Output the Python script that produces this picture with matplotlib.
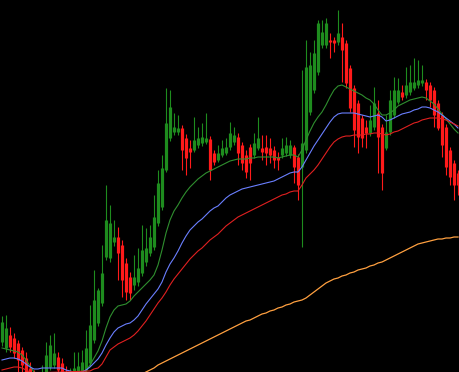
import numpy as np
import matplotlib
matplotlib.use("Agg")
import matplotlib.pyplot as plt

# Candle data (vertical screen units measured from the top, so the axis is inverted)
open_ = [342, 348, 335, 338, 343, 350, 358, 368, 375, 385, 378, 372, 367, 365, 357, 363, 372, 382, 378, 375,
         372, 370, 363, 340, 323, 303, 257, 258, 242, 237, 245, 263, 277, 285, 282, 273, 262, 253, 247, 223,
         207, 170, 138, 132, 132, 128, 138, 148, 150, 145, 143, 142, 139, 153, 160, 155, 153, 147, 142, 137,
         145, 155, 147, 155, 148, 148, 147, 148, 150, 157, 155, 153, 155, 147, 157, 167, 150, 112, 90, 72,
         45, 45, 40, 40, 42, 37, 43, 68, 88, 103, 118, 127, 133, 127, 113, 127, 148, 132, 115, 102,
         92, 95, 92, 88, 85, 83, 82, 85, 90, 103, 115, 127, 150, 163, 173]
close = [322, 328, 347, 353, 360, 365, 372, 378, 385, 378, 372, 355, 345, 353, 370, 375, 380, 376, 368, 366,
         362, 348, 325, 300, 290, 273, 220, 223, 237, 253, 280, 292, 293, 277, 268, 250, 248, 237, 217, 183,
         168, 123, 107, 127, 128, 150, 158, 152, 140, 138, 137, 138, 170, 162, 153, 148, 147, 133, 135, 153,
         163, 172, 163, 143, 138, 152, 153, 155, 160, 160, 148, 145, 145, 167, 185, 143, 67, 65, 53, 23,
         32, 23, 42, 43, 33, 50, 83, 108, 130, 137, 138, 133, 120, 103, 137, 173, 132, 100, 90, 90,
         97, 85, 82, 82, 80, 80, 90, 100, 115, 128, 145, 167, 177, 185, 185]
high = [316, 315, 327, 333, 340, 347, 352, 362, 370, 372, 365, 342, 335, 333, 352, 358, 366, 368, 352, 352,
        350, 330, 305, 270, 288, 245, 185, 205, 220, 227, 240, 258, 272, 255, 248, 225, 228, 225, 195, 170,
        155, 88, 90, 113, 115, 125, 134, 140, 117, 127, 123, 113, 136, 150, 145, 140, 138, 122, 127, 133,
        142, 150, 144, 133, 117, 135, 135, 138, 146, 152, 138, 137, 140, 145, 154, 70, 40, 52, 40, 20,
        20, 18, 33, 37, 10, 23, 40, 65, 85, 100, 115, 120, 105, 87, 100, 124, 115, 90, 77, 78,
        85, 67, 65, 58, 60, 65, 79, 82, 87, 100, 112, 124, 147, 160, 170]
low = [346, 352, 352, 358, 372, 378, 385, 390, 392, 390, 385, 376, 370, 368, 375, 382, 385, 388, 382, 380,
       378, 374, 366, 343, 326, 306, 260, 262, 246, 280, 297, 300, 300, 290, 286, 276, 266, 256, 250, 226,
       210, 172, 141, 135, 135, 170, 175, 168, 152, 148, 146, 144, 180, 165, 162, 157, 155, 150, 145, 165,
       170, 178, 180, 158, 150, 160, 165, 163, 168, 170, 158, 156, 158, 183, 200, 247, 153, 115, 93, 75,
       48, 48, 58, 52, 45, 82, 88, 112, 147, 153, 147, 148, 136, 130, 173, 190, 150, 135, 118, 104,
       100, 98, 95, 90, 88, 86, 100, 107, 127, 130, 157, 175, 185, 200, 195]

# Moving averages (same vertical units)
ma_fast = [348, 349, 350, 351, 352, 355, 360, 366, 372, 376, 378, 378, 377, 377, 378, 380, 381, 382, 381, 379,
           376, 371, 365, 358, 351, 341, 328, 317, 310, 306, 305, 304, 301, 296, 292, 288, 284, 280, 275, 265,
           250, 233, 220, 211, 205, 198, 192, 187, 183, 179, 176, 173, 171, 169, 167, 165, 163, 161, 160, 159,
           159, 159, 158, 158, 157, 157, 157, 157, 157, 158, 157, 156, 155, 155, 157, 150, 140, 131, 123, 117,
           112, 105, 97, 90, 86, 85, 87, 89, 91, 93, 95, 98, 100, 104, 110, 115, 115, 113, 110, 106,
           104, 102, 100, 99, 98, 97, 98, 101, 104, 109, 114, 119, 124, 129, 133]
ma_mid = [360, 359, 358, 358, 359, 361, 364, 367, 369, 369, 368, 368, 368, 368, 368, 368, 370, 371, 372, 372,
          372, 370, 367, 363, 359, 353, 345, 338, 332, 328, 326, 324, 323, 320, 316, 310, 304, 299, 294, 289,
          282, 272, 264, 258, 251, 243, 236, 230, 226, 222, 219, 215, 211, 208, 206, 202, 198, 195, 193, 191,
          189, 188, 187, 186, 185, 184, 183, 182, 181, 179, 177, 175, 173, 172, 172, 167, 160, 153, 146, 140,
          134, 128, 122, 117, 114, 113, 113, 113, 113, 114, 115, 116, 117, 116, 115, 117, 121, 120, 118, 116,
          114, 113, 112, 110, 109, 107, 107, 108, 110, 112, 115, 118, 121, 124, 128]
ma_slow = [370, 369, 368, 367, 367, 368, 370, 372, 374, 376, 377, 377, 377, 377, 377, 377, 378, 378, 378, 377,
           376, 373, 371, 369, 368, 364, 357, 350, 347, 344, 342, 340, 338, 335, 331, 326, 321, 315, 309, 303,
           298, 292, 285, 279, 274, 269, 264, 259, 255, 251, 248, 244, 240, 237, 234, 230, 226, 223, 220, 217,
           215, 213, 211, 209, 207, 205, 203, 201, 199, 197, 195, 194, 192, 191, 191, 185, 178, 174, 170, 165,
           159, 153, 147, 142, 139, 137, 136, 136, 135, 135, 135, 134, 134, 133, 133, 134, 135, 134, 132, 131,
           129, 127, 125, 123, 122, 120, 119, 118, 118, 118, 119, 120, 122, 124, 126]
ma_long = [None] * 35 + [
           374, 372, 370, 368, 365,
           363, 361, 359, 357, 355, 353, 351, 349, 347, 345, 343, 341, 339, 337, 335, 333, 331, 329, 327, 325,
           323, 321, 320, 318, 316, 314, 313, 311, 310, 308, 307, 305, 304, 302, 301, 300, 298, 295, 292, 289,
           286, 283, 281, 279, 278, 276, 275, 273, 272, 270, 269, 268, 266, 265, 263, 262, 260, 258, 256, 254,
           252, 250, 248, 246, 244, 243, 242, 241, 240, 239, 239, 238, 238, 237, 237]

UP = "#1e8c1e"
DOWN = "#ff1a1a"

fig = plt.figure(figsize=(4.6, 3.72), dpi=100, facecolor="black")
ax = fig.add_axes([0, 0, 1, 1])
ax.set_facecolor("black")

n = len(close)
x = np.arange(n)
o = np.array(open_, float)
c = np.array(close, float)
h = np.array(high, float)
l = np.array(low, float)
up = c < o  # smaller value = higher on screen

colors = np.where(up, UP, DOWN)
ax.vlines(x, h, l, colors=colors, linewidth=0.8, zorder=2)
top = np.minimum(o, c)
bot = np.maximum(np.maximum(o, c), top + 1.2)
ax.vlines(x, top, bot, colors=colors, linewidth=2.3, capstyle="butt", zorder=3)

def arr(v):
    return np.array([np.nan if t is None else t for t in v], float)

ax.plot(x, arr(ma_fast), color="#2f8f2f", linewidth=0.8, zorder=4)
ax.plot(x, arr(ma_mid), color="#6a7fff", linewidth=0.8, zorder=4)
ax.plot(x, arr(ma_slow), color="#e02020", linewidth=0.8, zorder=4)
ax.plot(x, arr(ma_long), color="#ffa040", linewidth=0.9, zorder=4)

ax.set_xlim(-0.5, n - 0.5)
ax.set_ylim(372, 0)
ax.axis("off")

fig.savefig("out.png", dpi=100, facecolor="black")
